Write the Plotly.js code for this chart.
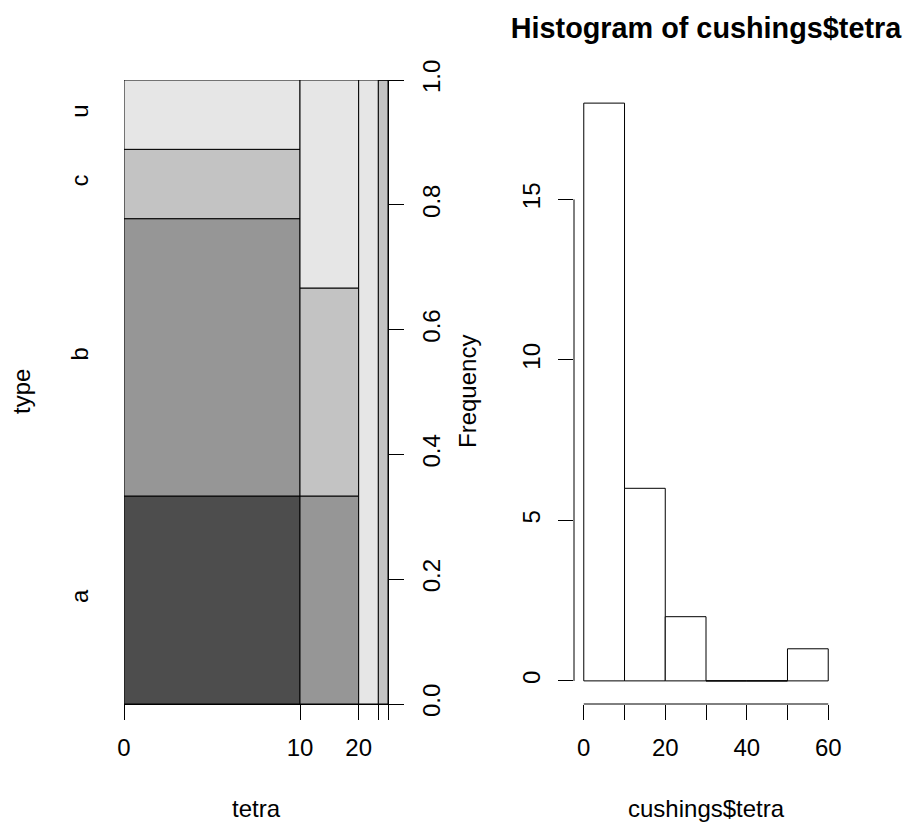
<!DOCTYPE html>
<html>
<head>
<meta charset="utf-8">
<script src="https://cdn.plot.ly/plotly-3.0.1.min.js"></script>
<style>html,body{margin:0;padding:0;background:#fff;}#chart{width:906px;height:825px;}</style>
</head>
<body>
<div id="chart"></div>
<script>
// ---- data (MASS cushings: Tetrahydrocortisone by Type) ----
const breaks = [0, 10, 20, 30, 40, 50, 60];
const types = ['a', 'b', 'c', 'u'];
const countsA = [6, 0, 0, 0, 0, 0];
const countsB = [8, 2, 0, 0, 0, 0];
const countsC = [2, 2, 0, 0, 0, 1];
const countsU = [2, 2, 2, 0, 0, 0];
const typeColors = ['#4D4D4D', '#969696', '#C3C3C3', '#E6E6E6'];
const spineTickText = ['0', '10', '20', '', ''];
const propTicks = [0, 0.2, 0.4, 0.6, 0.8, 1.0];
const propTickText = ['0.0', '0.2', '0.4', '0.6', '0.8', '1.0'];
const histTickText = ['0', '', '20', '', '40', '', '60'];
const freqTicks = [0, 5, 10, 15];

// ---- derived ----
const W = 906, H = 825;
const byType = [countsA, countsB, countsC, countsU];
const nb = breaks.length - 1;
const totals = [];
for (let i = 0; i < nb; i++) totals.push(byType.reduce((s, c) => s + c[i], 0));
const grand = totals.reduce((s, v) => s + v, 0);
const edges = [0];
totals.forEach(t => edges.push(edges[edges.length - 1] + t));
const uniqEdges = edges.filter((v, i) => i === 0 || v !== edges[i - 1]);

const FONT = 'Liberation Sans, Arial, Helvetica, sans-serif';
const px = v => v / W, py = v => 1 - v / H;

const traces = [];
// spineplot bars
const cumBelow = totals.map(() => 0);
byType.forEach((cnt, k) => {
  const xs = [], ws = [], ys = [], bs = [];
  for (let i = 0; i < nb; i++) {
    if (totals[i] === 0) continue;
    xs.push((edges[i] + edges[i + 1]) / 2);
    ws.push(totals[i]);
    ys.push(cnt[i] / totals[i]);
    bs.push(cumBelow[i]);
    cumBelow[i] += cnt[i] / totals[i];
  }
  traces.push({
    type: 'bar', x: xs, y: ys, base: bs, width: ws, name: types[k],
    xaxis: 'x', yaxis: 'y',
    marker: { color: typeColors[k], line: { color: '#000', width: 1 } },
    hoverinfo: 'skip', showlegend: false
  });
});
// first-bin midpoints for category labels
const firstBin = [];
let acc = 0;
byType.forEach(cnt => { const p = cnt[0] / totals[0]; firstBin.push(acc + p / 2); acc += p; });
// invisible trace so the left category axis is drawn
traces.push({ type: 'scatter', mode: 'markers', x: [0], y: [0], xaxis: 'x', yaxis: 'y2',
  marker: { opacity: 0, size: 1 }, hoverinfo: 'skip', showlegend: false });

// histogram
const mids = [], widths = [];
for (let i = 0; i < nb; i++) { mids.push((breaks[i] + breaks[i + 1]) / 2); widths.push(breaks[i + 1] - breaks[i]); }
traces.push({
  type: 'bar', x: mids, y: totals, width: widths, xaxis: 'x2', yaxis: 'y3',
  marker: { color: '#fff', line: { color: '#000', width: 1 } },
  hoverinfo: 'skip', showlegend: false
});
// zero-count bins drawn as flat lines
const zx = [], zy = [];
for (let i = 0; i < nb; i++) {
  if (totals[i] === 0) { zx.push(breaks[i], breaks[i + 1], null); zy.push(0, 0, null); }
}
traces.push({ type: 'scatter', mode: 'lines', x: zx, y: zy, xaxis: 'x2', yaxis: 'y3',
  line: { color: '#000', width: 0.9 }, hoverinfo: 'skip', showlegend: false });

const maxC = Math.max(...totals);
const xPad = (breaks[nb] - breaks[0]) * 0.04, yPad = maxC * 0.04;

const domY = [py(704), py(80)];
const tickCommon = { ticks: 'outside', ticklen: 15, tickwidth: 1, tickcolor: '#000',
  showgrid: false, zeroline: false, fixedrange: true,
  tickfont: { family: FONT, size: 24, color: '#000' } };

const layout = {
  width: W, height: H,
  margin: { l: 0, r: 0, t: 0, b: 0 },
  paper_bgcolor: '#fff', plot_bgcolor: 'rgba(0,0,0,0)',
  barmode: 'overlay', bargap: 0,
  font: { family: FONT, size: 24, color: '#000' },
  title: { text: 'Histogram of cushings$tetra', x: px(706), xanchor: 'center', xref: 'paper',
    y: py(28), yanchor: 'middle', yref: 'paper',
    font: { family: FONT, size: 28.8, weight: 'bold', color: '#000' } },
  xaxis: Object.assign({}, tickCommon, {
    domain: [px(124), px(388)], range: [0, grand], anchor: 'y',
    tickmode: 'array', tickvals: uniqEdges, ticktext: spineTickText,
    showline: true, linecolor: '#000', linewidth: 1, ticklabelstandoff: 7 }),
  yaxis: Object.assign({}, tickCommon, {
    domain: domY, range: [0, 1], anchor: 'x', side: 'right',
    tickmode: 'array', tickvals: propTicks, ticktext: propTickText, tickangle: -90,
    showline: true, linecolor: '#000', linewidth: 1, ticklabelstandoff: 7 }),
  yaxis2: Object.assign({}, tickCommon, {
    overlaying: 'y', anchor: 'x', side: 'left', range: [0, 1],
    tickmode: 'array', tickvals: firstBin, ticktext: types, tickangle: -90,
    ticks: '', showline: false, ticklabelstandoff: 30 }),
  xaxis2: Object.assign({}, tickCommon, {
    domain: [px(574), px(838)], range: [breaks[0] - xPad, breaks[nb] + xPad], anchor: 'y3',
    tickmode: 'array', tickvals: breaks, ticktext: histTickText,
    showline: false, ticklabelstandoff: 7 }),
  yaxis3: Object.assign({}, tickCommon, {
    domain: domY, range: [-yPad, maxC + yPad], anchor: 'x2',
    tickmode: 'array', tickvals: freqTicks, ticktext: freqTicks.map(String), tickangle: -90,
    showline: false, ticklabelstandoff: 8 }),
  shapes: [
    { type: 'line', xref: 'x2', yref: 'y3 domain', x0: breaks[0], x1: breaks[nb], y0: 0, y1: 0,
      line: { color: '#000', width: 1 } },
    { type: 'line', xref: 'x2 domain', yref: 'y3', x0: 0, x1: 0, y0: freqTicks[0], y1: freqTicks[freqTicks.length - 1],
      line: { color: '#000', width: 1 } }
  ],
  annotations: [
    { text: 'tetra', xref: 'paper', yref: 'paper', x: px(256), y: py(808), xanchor: 'center', yanchor: 'middle', showarrow: false, font: { size: 24 } },
    { text: 'type', xref: 'paper', yref: 'paper', x: px(22), y: py(392), xanchor: 'center', yanchor: 'middle', textangle: -90, showarrow: false, font: { size: 24 } },
    { text: 'Frequency', xref: 'paper', yref: 'paper', x: px(468), y: py(392), xanchor: 'center', yanchor: 'middle', textangle: -90, showarrow: false, font: { size: 24 } },
    { text: 'cushings$tetra', xref: 'paper', yref: 'paper', x: px(706), y: py(808), xanchor: 'center', yanchor: 'middle', showarrow: false, font: { size: 24 } }
  ]
};

Plotly.newPlot('chart', traces, layout, { staticPlot: true, displayModeBar: false });
</script>
</body>
</html>
